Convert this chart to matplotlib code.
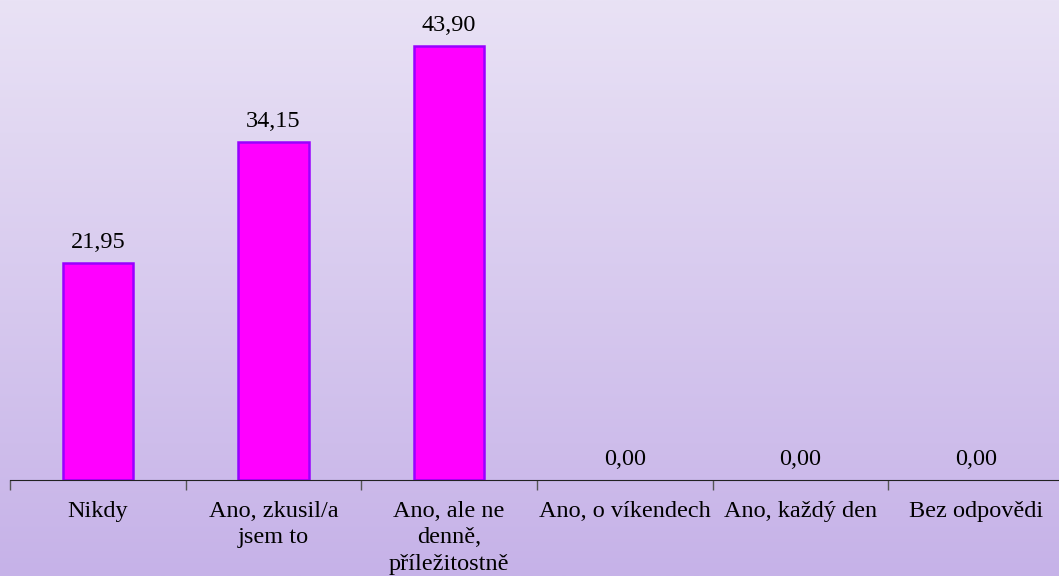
import matplotlib.pyplot as plt
import numpy as np

categories = ["Nikdy", "Ano, zkusil/a\njsem to", "Ano, ale ne\ndenně,\npříležitostně",
              "Ano, o víkendech", "Ano, každý den", "Bez odpovědi"]
values = [21.95, 34.15, 43.90, 0.00, 0.00, 0.00]

plt.rcParams['font.family'] = ['Liberation Serif', 'DejaVu Serif']

fig = plt.figure(figsize=(10.59, 5.76), dpi=100)

# gradient background
bg = fig.add_axes([0, 0, 1, 1], zorder=-1)
top = np.array([0xE9, 0xE2, 0xF5]) / 255
bot = np.array([0xC6, 0xB2, 0xE8]) / 255
t = np.linspace(0, 1, 256)[:, None]
grad = top * (1 - t) + bot * t
bg.imshow(grad[:, None, :], aspect='auto', extent=[0, 1, 0, 1])
bg.axis('off')

ax = fig.add_axes([10 / 1059, 96 / 576, 1054 / 1059, 494.5 / 576])
ax.patch.set_alpha(0)
x = np.arange(len(categories))
edges = ['#9900FF' if v > 0 else 'none' for v in values]
ax.bar(x, values, width=0.4, color='#FF00FF', edgecolor=edges, linewidth=1.8)
for xi, v in zip(x, values):
    ax.annotate(f"{v:.2f}".replace('.', ','), (xi, v), xytext=(0, 10),
                textcoords='offset pixels', ha='center', va='bottom', fontsize=17.5)

ax.set_xlim(-0.5, len(categories) - 0.5)
ax.set_ylim(0, 50)
ax.set_xticks(np.arange(len(categories) + 1) - 0.5)
ax.set_xticklabels([])
ax.set_xticks(x, minor=True)
ax.set_xticklabels(categories, minor=True, fontsize=17.5, linespacing=1.35)
ax.tick_params(axis='x', which='major', length=7, width=1, color='#555555')
ax.tick_params(axis='x', which='minor', length=0, pad=15)
ax.set_yticks([])
for s in ['top', 'right', 'left']:
    ax.spines[s].set_visible(False)
ax.spines['bottom'].set_color('#222222')

fig.savefig('out.png', dpi=100)
